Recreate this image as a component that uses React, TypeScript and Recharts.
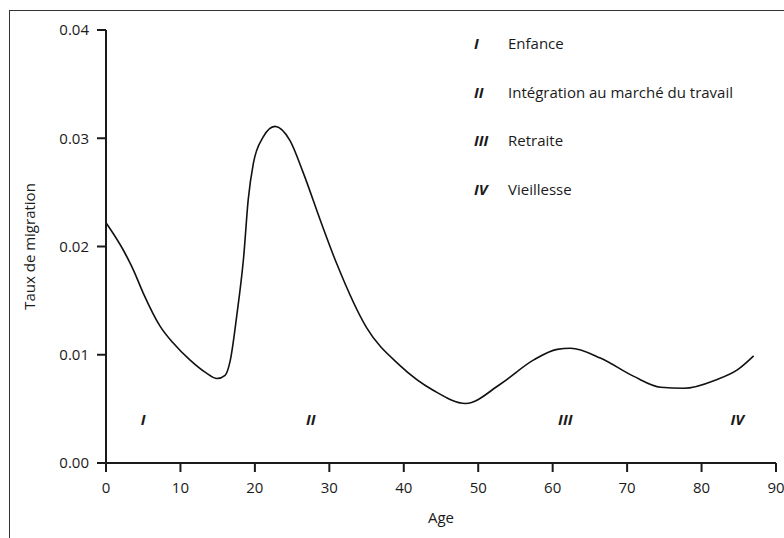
import { LineChart, Line, XAxis, YAxis, Label, ReferenceDot } from 'recharts'

const ages = [
  0, 2.3, 3.7, 5, 7.3, 9, 11.3, 13.5, 14.9, 16, 16.7, 17.6, 18.5, 19.1, 19.8, 21.1, 22.7, 24.7,
  26.5, 28.8, 31, 35, 39.5, 44, 48.3, 53, 57.4, 60.6, 62.4, 66.4, 70.9, 74.5, 77.6, 82, 84.8, 87,
]
const rates = [
  0.0222, 0.0197, 0.0178, 0.0157, 0.0126, 0.0111, 0.0095, 0.0083, 0.0078, 0.0081, 0.0095, 0.0138,
  0.0191, 0.0243, 0.0277, 0.0301, 0.0311, 0.0298, 0.0268, 0.0224, 0.0184, 0.0125, 0.009, 0.0067,
  0.0055, 0.0073, 0.0095, 0.0105, 0.0106, 0.0097, 0.008, 0.007, 0.0069, 0.0077, 0.0086, 0.0099,
]
const xTicks = [0, 10, 20, 30, 40, 50, 60, 70, 80, 90]
const yTicks = [0, 0.01, 0.02, 0.03, 0.04]
const phaseAges = [5, 27.5, 61.7, 84.8]
const phaseNumerals = ['I', 'II', 'III', 'IV']
const phaseNames = ['Enfance', 'Intégration au marché du travail', 'Retraite', 'Vieillesse']

const font = '"Open Sans", "DejaVu Sans", sans-serif'

const data = ages.map((age, i) => ({ age, rate: rates[i] }))

export default function App() {
  const tickStyle = { fill: '#1a1a1a', fontSize: 15, fontFamily: font }
  return (
    <div
      style={{
        position: 'fixed',
        left: 8,
        top: 8,
        width: 776,
        height: 530,
        fontFamily: font,
        overflow: 'hidden',
        background: '#fff',
      }}
    >
      <div
        style={{
          position: 'absolute',
          left: 1,
          top: 2,
          width: 790,
          height: 540,
          borderTop: '1.5px solid #333',
          borderLeft: '1.5px solid #333',
        }}
      />
      <LineChart
        width={776}
        height={530}
        data={data}
        margin={{ top: 22, right: 8, left: 38, bottom: 45 }}
        style={{ overflow: 'visible' }}
      >
        <XAxis
          dataKey="age"
          type="number"
          domain={[0, 90]}
          ticks={xTicks}
          tickSize={9}
          stroke="#1a1a1a"
          strokeWidth={2}
          tick={{ ...tickStyle, dy: 8 }}
          height={30}
          interval={0}
        >
          <Label
            value="Age"
            position="insideBottom"
            offset={-30}
            style={{ fill: '#1a1a1a', fontSize: 15, fontFamily: font }}
          />
        </XAxis>
        <YAxis
          type="number"
          domain={[0, 0.04]}
          ticks={yTicks}
          tickSize={9}
          width={60}
          stroke="#1a1a1a"
          strokeWidth={2}
          tick={{ ...tickStyle, dx: -6 }}
          tickFormatter={(v: number) => v.toFixed(2)}
          interval={0}
        >
          <Label
            value="Taux de migration"
            angle={-90}
            position="center"
            dx={-46}
            style={{ fill: '#1a1a1a', fontSize: 15, fontFamily: font, textAnchor: 'middle' }}
          />
        </YAxis>
        {phaseAges.map((a, i) => (
          <ReferenceDot
            key={phaseNumerals[i]}
            x={a}
            y={0.004}
            r={0}
            fill="none"
            stroke="none"
            label={{
              value: phaseNumerals[i],
              position: 'center',
              style: {
                fill: '#1a1a1a',
                fontSize: 15,
                fontStyle: 'italic',
                fontWeight: 'bold',
                fontFamily: font,
              },
            }}
          />
        ))}
        <Line
          type="monotone"
          dataKey="rate"
          stroke="#111"
          strokeWidth={1.6}
          dot={false}
          isAnimationActive={false}
        />
      </LineChart>
      {phaseNames.map((name, i) => (
        <div
          key={name}
          style={{
            position: 'absolute',
            left: 466,
            top: 25 + i * 48.5,
            fontSize: 15,
            color: '#1a1a1a',
            whiteSpace: 'nowrap',
            lineHeight: '20px',
          }}
        >
          <span
            style={{
              display: 'inline-block',
              width: 34,
              fontStyle: 'italic',
              fontWeight: 'bold',
            }}
          >
            {phaseNumerals[i]}
          </span>
          {name}
        </div>
      ))}
    </div>
  )
}
